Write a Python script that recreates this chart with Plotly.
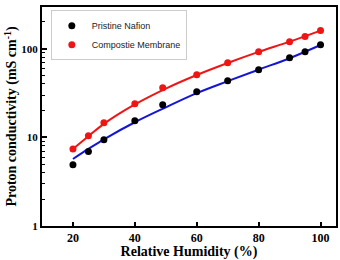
import plotly.graph_objects as go

rh = [20, 25, 30, 40, 49, 60, 70, 80, 90, 95, 100]
nafion = [4.9, 6.9, 9.4, 15.4, 23.3, 32.7, 43.5, 57.9, 79.1, 92.5, 111]
composite = [7.4, 10.4, 14.6, 23.9, 36.3, 50.8, 69.5, 92.5, 120, 137, 160]

fit_x = [20, 25, 30, 40, 50, 60, 70, 80, 90, 100]
nafion_fit = [5.7, 7.4, 9.5, 14.8, 21.8, 31.5, 43, 58, 78, 110]
composite_fit = [7.4, 10.3, 14.2, 23.5, 35.5, 50.5, 69, 92, 120, 160]

minor_ticks = [2, 3, 4, 5, 6, 7, 8, 9, 20, 30, 40, 50, 60, 70, 80, 90, 200]

fig = go.Figure()
fig.add_trace(go.Scatter(x=fit_x, y=nafion_fit, mode="lines", line=dict(color="#1515d8", width=2, shape="spline"), showlegend=False))
fig.add_trace(go.Scatter(x=fit_x, y=composite_fit, mode="lines", line=dict(color="#f01515", width=2, shape="spline"), showlegend=False))
fig.add_trace(go.Scatter(x=rh, y=nafion, mode="markers", name="Pristine Nafion", marker=dict(color="black", size=7)))
fig.add_trace(go.Scatter(x=rh, y=composite, mode="markers", name="Compostie Membrane", marker=dict(color="#f01515", size=7)))
fig.add_trace(go.Scatter(x=[rh[0]], y=[nafion[0]], mode="markers", marker=dict(opacity=0), showlegend=False,
                         hoverinfo="skip", yaxis="y2"))

fig.update_layout(
    width=340, height=260,
    margin=dict(l=42, r=4, t=7, b=34),
    plot_bgcolor="white", paper_bgcolor="white",
    legend=dict(x=0.03, y=0.985, xanchor="left", yanchor="top",
                bordercolor="#cccccc", borderwidth=1, bgcolor="white",
                font=dict(family="Liberation Sans", size=9, color="#222"),
                itemwidth=30, tracegroupgap=0),
    xaxis=dict(range=[10, 105], tickvals=[20, 40, 60, 80, 100], ticks="inside", ticklen=4,
               tickwidth=1.5, tickcolor="black", showline=True, linecolor="black", linewidth=2,
               mirror=True, showgrid=False, zeroline=False, automargin=False,
               tickfont=dict(family="Liberation Serif", size=12, color="black", weight="bold"),
               title=dict(text="<b>Relative Humidity (%)</b>", font=dict(family="Liberation Serif", size=14, color="black"), standoff=5)),
    yaxis=dict(type="log", range=[0, 2.47], dtick=1,
               ticks="inside", ticklen=5, tickwidth=1.5, tickcolor="black",
               showline=True, linecolor="black", linewidth=2, mirror=True, showgrid=False, zeroline=False,
               automargin=False,
               tickfont=dict(family="Liberation Serif", size=11, color="black", weight="bold"),
               title=dict(text="<b>Proton conductivity (mS cm<sup>-1</sup>)</b>", font=dict(family="Liberation Serif", size=14, color="black"), standoff=1)),
    yaxis2=dict(type="log", range=[0, 2.47], overlaying="y", side="left", tickvals=minor_ticks,
                showticklabels=False, ticks="inside", ticklen=3, tickwidth=1, tickcolor="black",
                showline=False, showgrid=False, zeroline=False, automargin=False),
)
fig.write_html("out.html")
